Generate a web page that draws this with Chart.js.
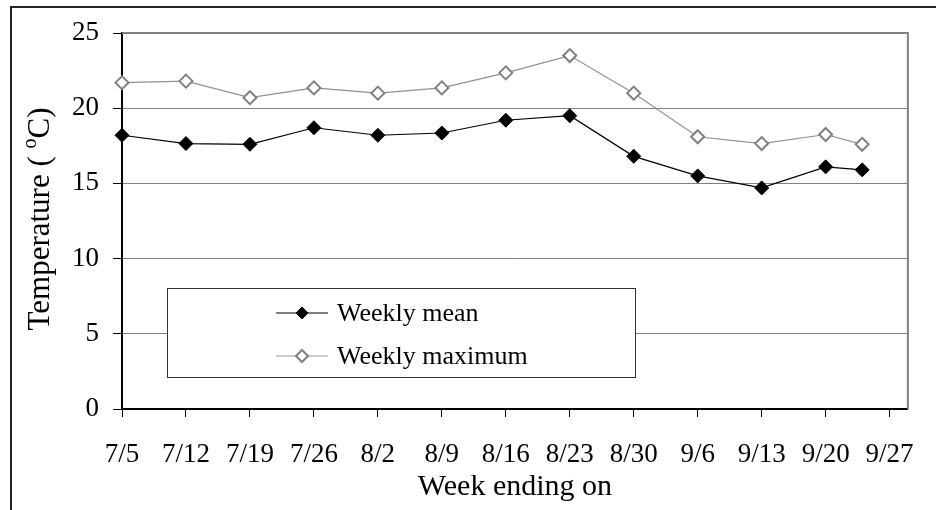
<!DOCTYPE html>
<html>
<head>
<meta charset="utf-8">
<script src="https://cdn.jsdelivr.net/npm/chart.js@4"></script>
<style>
  html, body { margin: 0; padding: 0; background: #fff; }
  #wrap { width: 936px; height: 510px; position: relative; }
</style>
</head>
<body>
<div id="wrap"><canvas id="tempChart" width="936" height="510"></canvas></div>
<script>
// ===== weekly temperature chart =====

// days after 7/5 for each "week ending on" reading
const weekDays = [0, 7, 14, 21, 28, 35, 42, 49, 56, 63, 70, 77, 81];
const weeklyMean = [18.2, 17.65, 17.6, 18.7, 18.2, 18.35, 19.2, 19.5, 16.8, 15.5, 14.7, 16.1, 15.9];
const weeklyMax = [21.7, 21.8, 20.7, 21.35, 21.0, 21.35, 22.35, 23.5, 21.0, 18.1, 17.65, 18.25, 17.6];

const tickDays = [0, 7, 14, 21, 28, 35, 42, 49, 56, 63, 70, 77, 84];
const tickLabels = ['7/5', '7/12', '7/19', '7/26', '8/2', '8/9', '8/16', '8/23', '8/30', '9/6', '9/13', '9/20', '9/27'];
const yTicks = [0, 5, 10, 15, 20, 25];
const seriesNames = ['Weekly mean', 'Weekly maximum'];

const FONT = "'Liberation Serif', 'Times New Roman', serif";

// frame, plot border, rotated y title and boxed legend
const decorPlugin = {
  id: 'decor',
  beforeDraw(chart) {
    const { ctx } = chart;
    ctx.save();
    ctx.strokeStyle = '#222';
    ctx.lineWidth = 2;
    ctx.beginPath();
    ctx.moveTo(11, 520);
    ctx.lineTo(11, 7);
    ctx.lineTo(940, 7);
    ctx.stroke();
    ctx.restore();
  },
  beforeDatasetsDraw(chart) {
    const { ctx, chartArea: a } = chart;
    ctx.save();
    ctx.strokeStyle = '#808080';
    ctx.lineWidth = 2;
    ctx.beginPath();
    ctx.moveTo(a.left, a.top);
    ctx.lineTo(a.right, a.top);
    ctx.lineTo(a.right, a.bottom);
    ctx.stroke();
    ctx.restore();

    // y title with superscript o
    const cx = 41, cy = 219;
    ctx.save();
    ctx.translate(cx, cy);
    ctx.rotate(-Math.PI / 2);
    ctx.fillStyle = '#000';
    ctx.textBaseline = 'middle';
    ctx.textAlign = 'left';
    const big = '31px ' + FONT, small = '20px ' + FONT;
    const p1 = 'Temperature ( ', p2 = 'o', p3 = 'C)';
    ctx.font = big; const w1 = ctx.measureText(p1).width; const w3 = ctx.measureText(p3).width;
    ctx.font = small; const w2 = ctx.measureText(p2).width;
    let x = -(w1 + w2 + w3) / 2;
    ctx.font = big; ctx.fillText(p1, x, 0); x += w1;
    ctx.font = small; ctx.fillText(p2, x, -10); x += w2;
    ctx.font = big; ctx.fillText(p3, x, 0);
    ctx.restore();
  },
  afterDatasetsDraw(chart) {
    const { ctx } = chart;
    ctx.save();
    ctx.fillStyle = '#fff';
    ctx.fillRect(167, 288, 468, 89);
    ctx.strokeStyle = '#333';
    ctx.lineWidth = 1;
    ctx.strokeRect(167.5, 288.5, 468, 89);
    const rows = [
      { y: 313, line: '#000', fill: '#000', stroke: '#000' },
      { y: 356, line: '#999', fill: '#fff', stroke: '#808080' }
    ];
    rows.forEach((r, i) => {
      ctx.strokeStyle = r.line;
      ctx.lineWidth = 1.2;
      ctx.beginPath();
      ctx.moveTo(276, r.y);
      ctx.lineTo(328, r.y);
      ctx.stroke();
      ctx.beginPath();
      ctx.moveTo(302, r.y - 6);
      ctx.lineTo(308, r.y);
      ctx.lineTo(302, r.y + 6);
      ctx.lineTo(296, r.y);
      ctx.closePath();
      ctx.fillStyle = r.fill;
      ctx.fill();
      ctx.strokeStyle = r.stroke;
      ctx.lineWidth = i === 0 ? 1 : 2;
      ctx.stroke();
      ctx.fillStyle = '#000';
      ctx.font = '26px ' + FONT;
      ctx.textBaseline = 'middle';
      ctx.fillText(seriesNames[i], 337, r.y + 1);
    });
    ctx.restore();
  }
};

const ctx = document.getElementById('tempChart');
new Chart(ctx, {
  type: 'line',
  data: {
    datasets: [
      {
        label: seriesNames[0],
        data: weekDays.map((d, i) => ({ x: d, y: weeklyMean[i] })),
        borderColor: '#000',
        borderWidth: 1.2,
        backgroundColor: '#000',
        pointStyle: 'rectRot',
        pointRadius: 7,
        pointBorderWidth: 1,
        pointBorderColor: '#000',
        pointBackgroundColor: '#000',
        tension: 0,
        clip: false
      },
      {
        label: seriesNames[1],
        data: weekDays.map((d, i) => ({ x: d, y: weeklyMax[i] })),
        borderColor: '#909090',
        borderWidth: 1.2,
        backgroundColor: '#fff',
        pointStyle: 'rectRot',
        pointRadius: 6.5,
        pointBorderWidth: 2,
        pointBorderColor: '#808080',
        pointBackgroundColor: '#fff',
        tension: 0,
        clip: false
      }
    ]
  },
  options: {
    responsive: false,
    animation: false,
    layout: { padding: { top: 33, right: 17, left: 0, bottom: 0 } },
    plugins: { legend: { display: false }, tooltip: { enabled: false } },
    scales: {
      x: {
        type: 'linear',
        min: 0,
        max: 86,
        afterBuildTicks: s => { s.ticks = tickDays.map(v => ({ value: v })); },
        afterFit: s => { s.height = 101; },
        grid: { drawOnChartArea: false, tickColor: '#000', tickLength: 8, tickWidth: 1 },
        border: { color: '#000', width: 2 },
        ticks: {
          autoSkip: false,
          maxRotation: 0,
          padding: 22,
          color: '#000',
          font: { family: FONT, size: 27 },
          callback: v => tickLabels[tickDays.indexOf(v)]
        },
        title: {
          display: true,
          text: 'Week ending on',
          color: '#000',
          font: { family: FONT, size: 30 },
          padding: { top: 0, bottom: 5 }
        }
      },
      y: {
        min: 0,
        max: 25,
        afterBuildTicks: s => { s.ticks = yTicks.map(v => ({ value: v })); },
        afterFit: s => { s.width = 122; },
        grid: { color: '#808080', lineWidth: 1, tickColor: '#000', tickLength: 9 },
        border: { color: '#000', width: 2 },
        ticks: {
          padding: 14,
          color: '#000',
          font: { family: FONT, size: 27 }
        }
      }
    }
  },
  plugins: [decorPlugin]
});
</script>
</body>
</html>
